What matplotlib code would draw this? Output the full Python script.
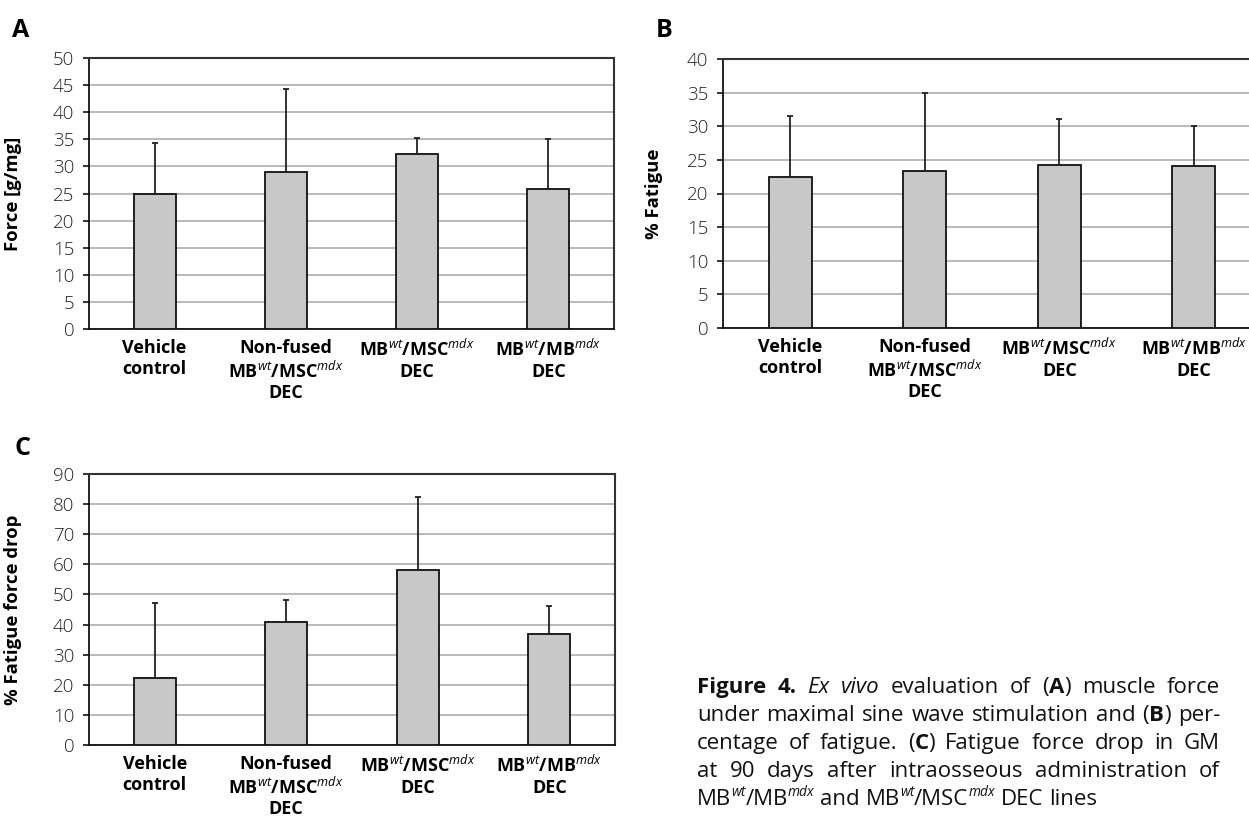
import matplotlib
matplotlib.use("Agg")
import matplotlib.pyplot as plt
from matplotlib.transforms import IdentityTransform
import numpy as np

FONT = "Open Sans"
plt.rcParams["font.family"] = [FONT, "DejaVu Sans"]
plt.rcParams["mathtext.fontset"] = "custom"
plt.rcParams["mathtext.rm"] = FONT
plt.rcParams["mathtext.it"] = FONT + ":italic"
plt.rcParams["mathtext.bf"] = FONT + ":bold"

# ---------------- data ----------------
categories = [
    "Vehicle\ncontrol",
    "Non-fused\nMB$^{wt}$/MSC$^{mdx}$\nDEC",
    "MB$^{wt}$/MSC$^{mdx}$\nDEC",
    "MB$^{wt}$/MB$^{mdx}$\nDEC",
]
force_mean = [25.0, 28.9, 32.2, 25.9]
force_sd = [9.3, 15.4, 3.0, 9.1]
fatigue_mean = [22.5, 23.4, 24.3, 24.1]
fatigue_sd = [9.0, 11.6, 6.8, 6.0]
drop_mean = [22.3, 40.9, 58.0, 36.9]
drop_sd = [24.9, 7.3, 24.3, 9.2]

W, H, DPI = 1249, 823, 100
fig = plt.figure(figsize=(W / DPI, H / DPI), dpi=DPI)


def px_axes(left, top, right, bottom):
    return fig.add_axes([left / W, 1 - bottom / H, (right - left) / W, (bottom - top) / H])


def panel(ax, means, sds, ymax, ystep, ylabel, ylab_x):
    x = np.arange(len(categories))
    ax.set_axisbelow(True)
    ax.yaxis.grid(True, color="#b9b9b9", lw=1.4)
    ax.bar(x, means, width=0.32, color="#c8c8c8", edgecolor="#111111", lw=1.3,
           yerr=[np.zeros(len(means)), sds],
           error_kw=dict(ecolor="#222222", elinewidth=1.3, capsize=2.3, capthick=1.3),
           zorder=3)
    ax.set_ylim(0, ymax)
    ax.set_yticks(np.arange(0, ymax + 0.1, ystep))
    ax.set_xlim(-0.5, 3.5)
    ax.set_xticks(x)
    ax.set_xticklabels(categories, fontweight="bold", fontsize=13, linespacing=1.2)
    ax.tick_params(axis="x", length=0, pad=7)
    ax.tick_params(axis="y", length=4.5, width=1.2, pad=6, labelsize=13.5,
                   direction="out", color="#111111")
    for lab in ax.get_yticklabels():
        lab.set_fontweight("light")
        lab.set_color("#222222")
    for s in ["left", "bottom"]:
        ax.spines[s].set_color("#111111")
        ax.spines[s].set_linewidth(1.3)
    for s in ["top", "right"]:
        ax.spines[s].set_color("#333333")
        ax.spines[s].set_linewidth(1.5)
    ax.set_ylabel(ylabel, fontweight="bold", fontsize=13.3)
    ax.yaxis.set_label_coords(ylab_x, 0.5)


axA = px_axes(89, 58, 614, 329)
panel(axA, force_mean, force_sd, 50, 5, "Force [g/mg]", (22 - 89) / 525)

axB = px_axes(723, 59, 1261, 328)
panel(axB, fatigue_mean, fatigue_sd, 40, 5, "% Fatigue", (663 - 723) / 538)

axC = px_axes(89, 474, 615, 745)
panel(axC, drop_mean, drop_sd, 90, 10, "% Fatigue force drop", (22 - 89) / 526)

# panel letters
for letter, xp, yb in [("A", 12, 37), ("B", 656, 37), ("C", 14, 455)]:
    fig.text(xp, H - yb, letter, transform=IdentityTransform(), fontsize=18,
             fontweight="bold", ha="left", va="baseline")

# ---------------- caption (justified) ----------------
caption_lines = [
    [[("Figure", "b")], [("4.", "b")], [("Ex", "i")], [("vivo", "i")], [("evaluation", "r")],
     [("of", "r")], [("(", "r"), ("A", "b"), (")", "r")], [("muscle", "r")], [("force", "r")]],
    [[("under", "r")], [("maximal", "r")], [("sine", "r")], [("wave", "r")],
     [("stimulation", "r")], [("and", "r")], [("(", "r"), ("B", "b"), (")", "r")], [("per-", "r")]],
    [[("centage", "r")], [("of", "r")], [("fatigue.", "r")], [("(", "r"), ("C", "b"), (")", "r")],
     [("Fatigue", "r")], [("force", "r")], [("drop", "r")], [("in", "r")], [("GM", "r")]],
    [[("at", "r")], [("90", "r")], [("days", "r")], [("after", "r")], [("intraosseous", "r")],
     [("administration", "r")], [("of", "r")]],
    [[("MB", "r"), ("wt", "s"), ("/MB", "r"), ("mdx", "s")], [("and", "r")],
     [("MB", "r"), ("wt", "s"), ("/MSC", "r"), ("mdx", "s")], [("DEC", "r")], [("lines", "r")]],
]

renderer = fig.canvas.get_renderer()


def make_styles(cs):
    return {
        "r": dict(fontsize=cs),
        "b": dict(fontsize=cs, fontweight="bold"),
        "i": dict(fontsize=cs, fontstyle="italic"),
        "s": dict(fontsize=cs * 0.62, fontstyle="italic"),
    }


def text_w(txt, st, styles):
    t = fig.text(0, 0, txt, transform=IdentityTransform(), **styles[st])
    w = t.get_window_extent(renderer).width
    t.remove()
    return w


CX1 = 1220          # right edge of the caption column
X_ANCHOR = 819      # where the "x" of "Ex vivo" begins in the reference


def layout(cs):
    st = make_styles(cs)
    sp = text_w("n n", "r", st) - text_w("nn", "r", st)
    ww = [[sum(text_w(t, s, st) for t, s in w) for w in words] for words in caption_lines]
    a = ww[0][0] + ww[0][1] + text_w("E", "i", st)
    n1 = len(ww[0]) - 1
    s1 = sum(ww[0])
    k = 2.0 / n1
    cx0 = (X_ANCHOR - a - k * (CX1 - s1)) / (1 - k)
    gap2 = (CX1 - cx0 - sum(ww[1])) / (len(ww[1]) - 1)
    return st, sp, ww, cx0, gap2


best = None
for cs in np.arange(12.0, 16.01, 0.1):
    res = layout(cs)
    err = abs(res[4] - 1.05 * res[1])
    if best is None or err < best[0]:
        best = (err, cs, res)

CS = best[1]
styles, space_w, word_widths, CX0, _ = best[2]
SUP_RISE = 0.42 * CS * DPI / 72

baselines = [693, 721, 749, 777, 805]
for li, (words, widths, yb) in enumerate(zip(caption_lines, word_widths, baselines)):
    if li < len(caption_lines) - 1:
        gap = (CX1 - CX0 - sum(widths)) / (len(words) - 1)
    else:
        gap = space_w
    x = CX0
    for w, wsum in zip(words, widths):
        xx = x
        for t, s in w:
            rise = SUP_RISE if s == "s" else 0
            fig.text(xx, H - yb + rise, t, transform=IdentityTransform(), ha="left",
                     va="baseline", color="#111111", **styles[s])
            xx += text_w(t, s, styles)
        x += wsum + gap

fig.savefig("out.png", dpi=DPI)
